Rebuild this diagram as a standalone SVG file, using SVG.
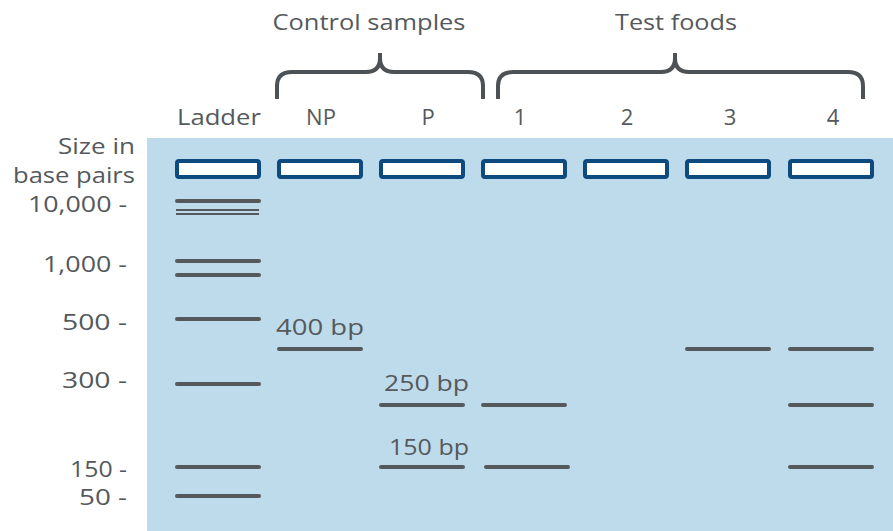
<svg xmlns="http://www.w3.org/2000/svg" width="893" height="531" viewBox="0 0 893 531">
<style>
text{font-family:"Open Sans","Noto Sans","Liberation Sans",sans-serif;font-size:22px;fill:#55595c}
.m{text-anchor:middle}
.r{text-anchor:end}
.well{fill:#ffffff;stroke:#0d4a80;stroke-width:4}
.band{stroke:#55595c;stroke-width:4;stroke-linecap:round;fill:none}
.thin{stroke:#55595c;stroke-width:2;fill:none}
.brace{stroke:#4d5256;stroke-width:4;fill:none;stroke-linecap:butt}
</style>
<rect width="893" height="531" fill="#ffffff"/>
<rect id="gel" x="147" y="138" width="746" height="393" fill="#bedbeb"/>
<g id="group-labels">
<text class="m" x="369" y="30" textLength="193" lengthAdjust="spacingAndGlyphs">Control samples</text>
<text class="m" x="676" y="30" textLength="122" lengthAdjust="spacingAndGlyphs">Test foods</text>
</g>
<g id="braces">
<path class="brace" d="M277,99 V86 Q277,72 292,72 H366 Q380,72 380,58 V53 M380,58 Q380,72 394,72 H468 Q483,72 483,86 V99"/>
<path class="brace" d="M498,99 V86 Q498,72 513,72 H661 Q675,72 675,58 V53 M675,58 Q675,72 689,72 H848 Q863,72 863,86 V99"/>
</g>
<g id="lane-labels">
<text class="m" x="219" y="125" textLength="84" lengthAdjust="spacingAndGlyphs">Ladder</text>
<text class="m" x="321" y="125">NP</text>
<text class="m" x="428" y="125">P</text>
<text class="m" x="520" y="125">1</text>
<text class="m" x="627" y="125">2</text>
<text class="m" x="730" y="125">3</text>
<text class="m" x="833" y="125">4</text>
</g>
<g id="size-axis">
<text x="58" y="154" textLength="77" lengthAdjust="spacingAndGlyphs">Size in</text>
<text x="13" y="183" textLength="122" lengthAdjust="spacingAndGlyphs">base pairs</text>
<text x="28" y="212" textLength="99" lengthAdjust="spacingAndGlyphs">10,000 -</text>
<text x="43" y="272" textLength="84" lengthAdjust="spacingAndGlyphs">1,000 -</text>
<text x="62" y="330" textLength="65" lengthAdjust="spacingAndGlyphs">500 -</text>
<text x="62" y="388" textLength="65" lengthAdjust="spacingAndGlyphs">300 -</text>
<text x="70" y="477" textLength="57" lengthAdjust="spacingAndGlyphs">150 -</text>
<text x="79" y="505" textLength="48" lengthAdjust="spacingAndGlyphs">50 -</text>
</g>
<g id="wells">
<rect class="well" x="177" y="161" width="82" height="16" rx="2"/>
<rect class="well" x="279" y="161" width="82" height="16" rx="2"/>
<rect class="well" x="381" y="161" width="82" height="16" rx="2"/>
<rect class="well" x="483" y="161" width="82" height="16" rx="2"/>
<rect class="well" x="585" y="161" width="82" height="16" rx="2"/>
<rect class="well" x="687" y="161" width="82" height="16" rx="2"/>
<rect class="well" x="790" y="161" width="82" height="16" rx="2"/>
</g>
<g id="ladder-bands">
<line class="band" x1="177" y1="201" x2="259" y2="201"/>
<line class="thin" x1="176" y1="210" x2="259" y2="210"/>
<line class="thin" x1="176" y1="214" x2="259" y2="214"/>
<line class="band" x1="177" y1="261" x2="259" y2="261"/>
<line class="band" x1="177" y1="275" x2="259" y2="275"/>
<line class="band" x1="177" y1="319" x2="259" y2="319"/>
<line class="band" x1="177" y1="384" x2="259" y2="384"/>
<line class="band" x1="177" y1="467" x2="259" y2="467"/>
<line class="band" x1="177" y1="496" x2="259" y2="496"/>
</g>
<g id="sample-bands">
<line class="band" x1="279" y1="349" x2="361" y2="349"/>
<line class="band" x1="381" y1="405" x2="463" y2="405"/>
<line class="band" x1="381" y1="467" x2="463" y2="467"/>
<line class="band" x1="483" y1="405" x2="565" y2="405"/>
<line class="band" x1="486" y1="467" x2="568" y2="467"/>
<line class="band" x1="687" y1="349" x2="769" y2="349"/>
<line class="band" x1="790" y1="349" x2="872" y2="349"/>
<line class="band" x1="790" y1="405" x2="872" y2="405"/>
<line class="band" x1="790" y1="467" x2="872" y2="467"/>
</g>
<g id="band-labels">
<text x="276" y="335" textLength="88" lengthAdjust="spacingAndGlyphs">400 bp</text>
<text x="384" y="391" textLength="85" lengthAdjust="spacingAndGlyphs">250 bp</text>
<text x="389" y="455" textLength="80" lengthAdjust="spacingAndGlyphs">150 bp</text>
</g>
</svg>
